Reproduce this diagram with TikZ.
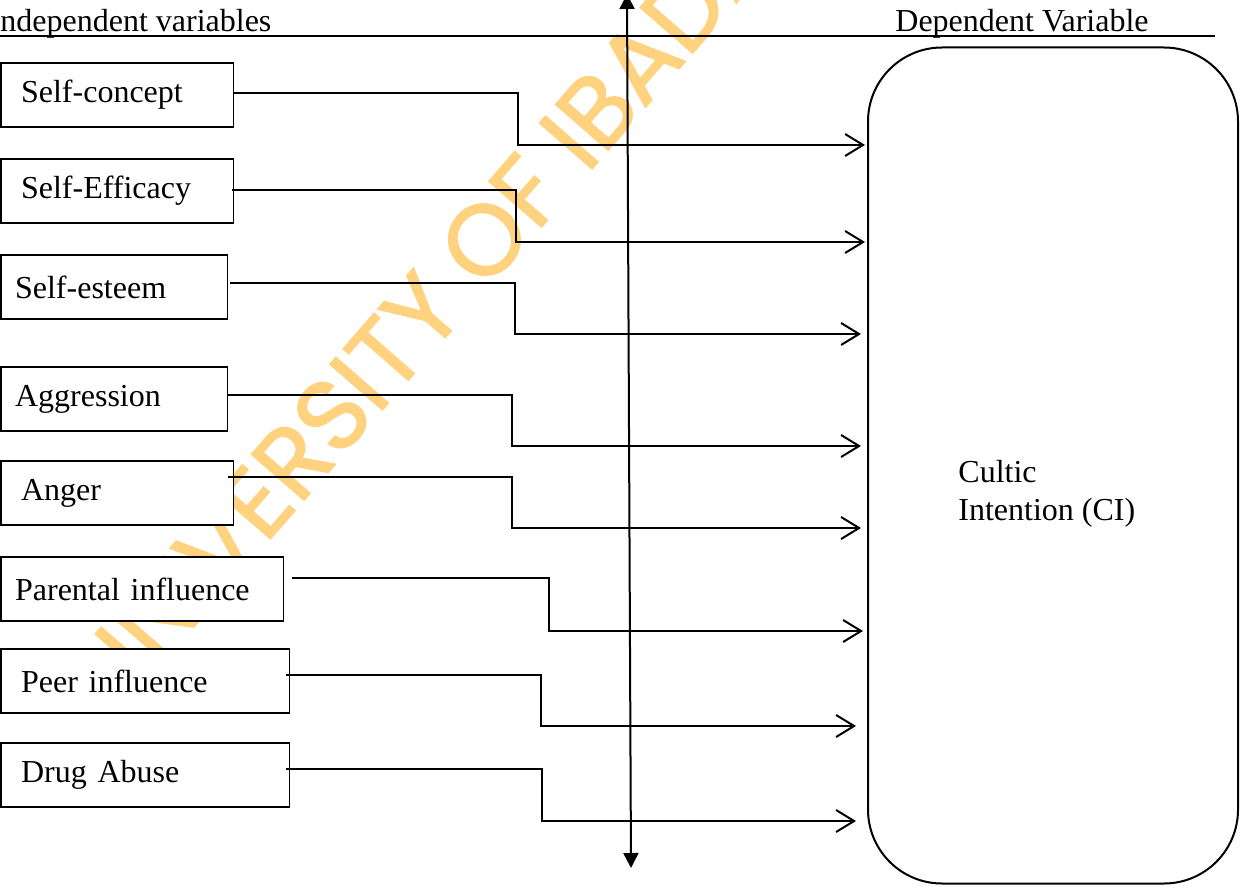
\documentclass[tikz,border=0pt]{standalone}
\usepackage{fontspec}
\setmainfont{Liberation Serif}
\newfontfamily\wmfont[FakeBold=1.5]{Poppins}
\usepackage{tikz}
\usetikzlibrary{arrows.meta,positioning}
\usepackage{xcolor}
\definecolor{WaterGold}{HTML}{FFD27F}

\begin{document}
\begin{tikzpicture}[x=0.5pt, y=-0.5pt,
    ivbox/.style={draw, fill=white, line width=0.6pt, anchor=west, minimum height=32pt, inner xsep=10pt, inner ysep=0pt, align=left, font=\fontsize{16pt}{19pt}\selectfont},
    dvbox/.style={draw, line width=1pt, rounded corners=37pt, minimum width=185pt, minimum height=418pt},
    hdr/.style={anchor=base west, inner sep=0pt, font=\fontsize{16pt}{19pt}\selectfont},
    wm/.style={text=WaterGold, font=\wmfont\fontsize{50pt}{60pt}\selectfont, inner sep=0pt},
    arr/.style={-{Straight Barb[length=9pt,width=11pt]}, line width=1pt},
    axis/.style={{Triangle[length=7.5pt,width=7.5pt]}-{Triangle[length=7.5pt,width=7.5pt]}, line width=1pt}
  ]
    \useasboundingbox (0,0) rectangle (1240,887);

    % watermark
    \node[wm, rotate=49] (wmark) at (443,287) {UNIVERSITY OF IBADAN};

    % headings
    \node[hdr] (ivhead) at (0,32) {ndependent variables};
    \node[hdr] (dvhead) at (895,32) {Dependent Variable};
    \coordinate (hl) at (0,36);
    \coordinate (hr) at (1215,36);
    \draw[line width=1pt] (hl) -- (hr);

    % independent variables
    \node[ivbox, minimum width=116pt, text width=96pt] (sc) at (0.5,95) {Self-concept};
    \node[ivbox, minimum width=116pt, text width=96pt] (se) at (0.5,191) {Self-Efficacy};
    \node[ivbox, minimum width=113pt, text width=99pt, inner xsep=7pt] (es) at (0.5,287) {Self-esteem};
    \node[ivbox, minimum width=113pt, text width=99pt, inner xsep=7pt] (ag) at (0.5,399) {Aggression};
    \node[ivbox, minimum width=116pt, text width=96pt] (an) at (0.5,493) {Anger};
    \node[ivbox, minimum width=141pt, text width=127pt, inner xsep=7pt] (pa) at (0.5,589) {Parental influence};
    \node[ivbox, minimum width=144pt, text width=124pt] (pe) at (0.5,681) {Peer influence};
    \node[ivbox, minimum width=144pt, text width=124pt] (da) at (0.5,775) {Drug Abuse};

    % dependent variable
    \node[dvbox] (ci) at (1053,465.5) {};
    \node[anchor=west, align=left, inner sep=0pt, font=\fontsize{16pt}{19pt}\selectfont] (cit) at (958,494) {Cultic\\Intention (CI)};

    % axis
    \coordinate (axtop) at (627,-6);
    \coordinate (axbot) at (631,868);
    \draw[axis] (axtop) -- (axbot);

    % connectors
    \draw[arr, shorten >=1pt] ([yshift=1pt]sc.east) -- ++(284,0) -- ++(0,52) coordinate (e1) -- (e1 -| ci.west);
    \draw[arr, shorten >=1pt] ([yshift=0.5pt,xshift=-1pt]se.east) -- ++(284,0) -- ++(0,52) coordinate (e2) -- (e2 -| ci.west);
    \draw[arr, shorten >=3pt] ([yshift=2pt,xshift=1pt]es.east) -- ++(285,0) -- ++(0,51) coordinate (e3) -- (e3 -| ci.west);
    \draw[arr, shorten >=3pt] ([yshift=2pt]ag.east) -- ++(284,0) -- ++(0,51) coordinate (e4) -- (e4 -| ci.west);
    \draw[arr, shorten >=3pt] ([yshift=8pt,xshift=-3pt]an.east) -- ++(284,0) -- ++(0,51) coordinate (e5) -- (e5 -| ci.west);
    \draw[arr, shorten >=2pt] ([yshift=5.5pt,xshift=4pt]pa.east) -- ++(257,0) -- ++(0,53) coordinate (e6) -- (e6 -| ci.west);
    \draw[arr, shorten >=5.5pt] ([yshift=3pt,xshift=-2pt]pe.east) -- ++(255,0) -- ++(0,51) coordinate (e7) -- (e7 -| ci.west);
    \draw[arr, shorten >=5.5pt] ([yshift=3pt,xshift=-2pt]da.east) -- ++(256,0) -- ++(0,52) coordinate (e8) -- (e8 -| ci.west);
  \end{tikzpicture}
\end{document}
